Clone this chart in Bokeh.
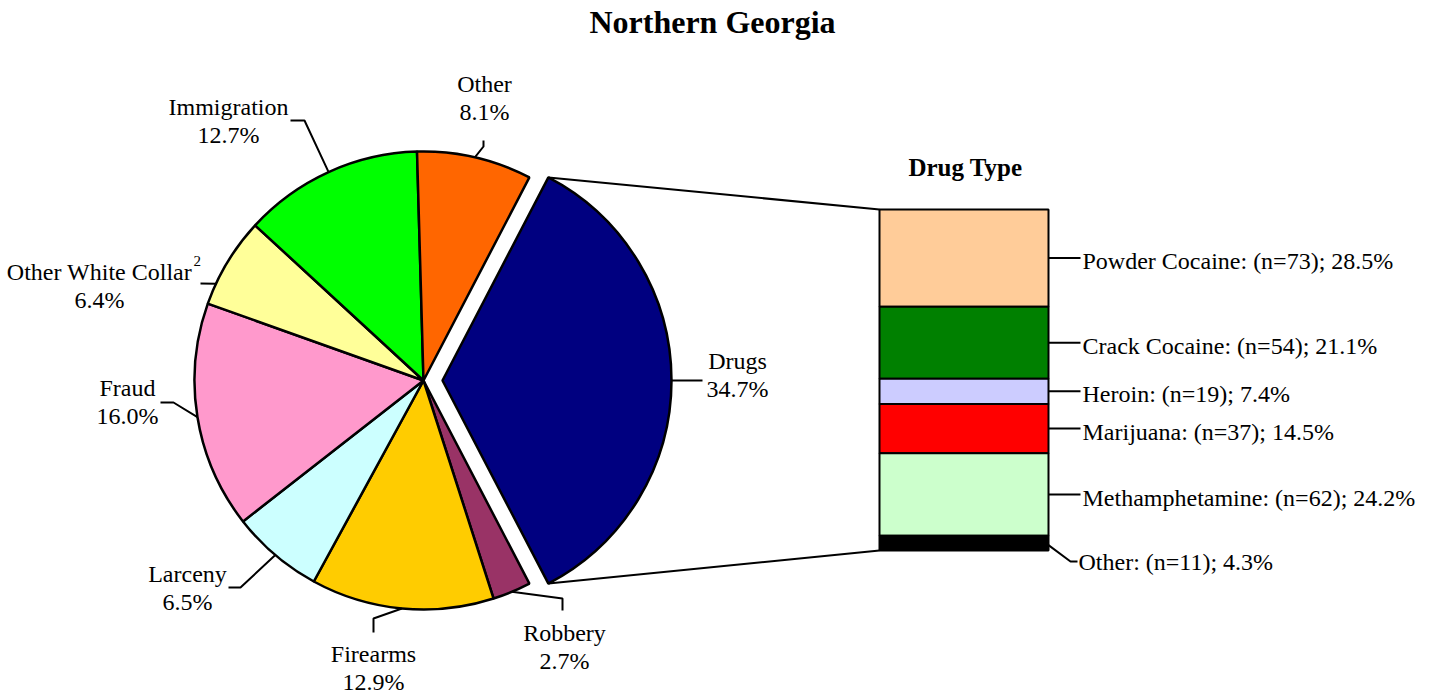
import math
from bokeh.plotting import figure
from bokeh.models import Range1d, ColumnDataSource
from bokeh.embed import file_html
from bokeh.resources import INLINE
from bokeh.core.properties import value

# ---------------- data ----------------
categories = ["Drugs", "Robbery", "Firearms", "Larceny", "Fraud",
              "Other White Collar", "Immigration", "Other"]
percents = [34.7, 2.7, 12.9, 6.5, 16.0, 6.4, 12.7, 8.1]
slice_colors = ["#000080", "#993366", "#FFCC00", "#CCFFFF", "#FF99CC",
                "#FFFF99", "#00FF00", "#FF6600"]

drug_types = ["Powder Cocaine", "Crack Cocaine", "Heroin", "Marijuana",
              "Methamphetamine", "Other"]
drug_counts = [73, 54, 19, 37, 62, 11]
drug_pcts = [28.5, 21.1, 7.4, 14.5, 24.2, 4.3]
drug_colors = ["#FFCC99", "#008000", "#CCCCFF", "#FF0000", "#CCFFCC", "#000000"]

# ---------------- layout (screen px of the 1429x694 page) ----------------
PAGE_W, PAGE_H = 1429, 694
def Y(sy):
    return PAGE_H - sy

FONT = "Liberation Serif"
cx, cy, R = 423, 380, 229
explode = 19
start_deg = percents[0] * 3.6 / 2.0  # Drugs centred on the right

# label layout: (name centre x, name centre y, pct y), leader elbows, optional anchor angle
label_layout = {
    "Drugs": ((737, 360, 388), [(702, None)], None),
    "Robbery": ((564, 632, 660), [(562, 598), (562, 610)], None),
    "Firearms": ((373, 653, 681), [(373, 618), (373, 632)], None),
    "Larceny": ((187, 573, 601), [(240, 587), (228, 587)], None),
    "Fraud": ((127, 387, 415), [(173, 402), (160, 402)], None),
    "Other White Collar": ((99, 271, 299), [(200, 283)], 155.0),
    "Immigration": ((228, 106, 134), [(304, 120), (290, 120)], None),
    "Other": ((484, 83, 111), [(483, 146), (483, 140)], None),
}

bar_left, bar_right, bar_top, bar_bottom = 879, 1048, 209, 550
bar_text_x = 1080

p = figure(width=PAGE_W, height=PAGE_H, output_backend="svg", toolbar_location=None,
           x_range=Range1d(0, PAGE_W), y_range=Range1d(0, PAGE_H),
           x_axis_type=None, y_axis_type=None, min_border=0)
p.grid.visible = False
p.outline_line_color = None
p.background_fill_color = "white"

# ---------------- pie ----------------
xs, ys, sa, ea, cols = [], [], [], [], []
mids = []
cum = 0.0
for i, (cat, pct) in enumerate(zip(categories, percents)):
    a_hi = start_deg - cum * 3.6
    a_lo = a_hi - pct * 3.6
    cum += pct
    mid = (a_hi + a_lo) / 2.0
    mids.append(mid)
    ox, oy = cx, cy
    if i == 0:
        ox = cx + explode * math.cos(math.radians(mid))
        oy = cy - explode * math.sin(math.radians(mid))
    xs.append(ox); ys.append(Y(oy))
    sa.append(math.radians(a_lo)); ea.append(math.radians(a_hi))
    cols.append(slice_colors[i])

src = ColumnDataSource(dict(x=xs, y=ys, start=sa, end=ea, color=cols))
p.wedge(x="x", y="y", radius=R, start_angle="start", end_angle="end",
        fill_color="color", line_color="black", line_width=2.5,
        direction="anticlock", source=src)

# ---------------- connector lines from exploded slice to bar ----------------
dx0, dy0 = xs[0], ys[0]
top_corner = (dx0 + R * math.cos(ea[0]), dy0 + R * math.sin(ea[0]))
bot_corner = (dx0 + R * math.cos(sa[0]), dy0 + R * math.sin(sa[0]))
p.multi_line(xs=[[top_corner[0], bar_left], [bot_corner[0], bar_left]],
             ys=[[top_corner[1], Y(bar_top)], [bot_corner[1], Y(bar_bottom)]],
             line_color="black", line_width=2)

# ---------------- pie labels ----------------
lx, ly = [], []
nm_x, nm_y, nm_t, pc_x, pc_y, pc_t = [], [], [], [], [], []
for i, cat in enumerate(categories):
    (tx, ty1, ty2), elbows, ang = label_layout[cat]
    a = math.radians(ang if ang is not None else mids[i])
    ox, oy = xs[i], ys[i]
    ex, ey = ox + R * math.cos(a), oy + R * math.sin(a)
    px, py = [ex], [ey]
    for (bx, by) in elbows:
        px.append(bx)
        py.append(ey if by is None else Y(by))
    lx.append(px); ly.append(py)
    nm_x.append(tx); nm_y.append(Y(ty1)); nm_t.append(cat)
    pc_x.append(tx); pc_y.append(Y(ty2)); pc_t.append(f"{percents[i]:.1f}%")

p.multi_line(xs=lx, ys=ly, line_color="black", line_width=2)
p.text(x=nm_x, y=nm_y, text=nm_t, text_font=value(FONT), text_font_size="24px",
       text_align="center", text_baseline="middle", text_color="black")
p.text(x=pc_x, y=pc_y, text=pc_t, text_font=value(FONT), text_font_size="24px",
       text_align="center", text_baseline="middle", text_color="black")
# superscript footnote mark on "Other White Collar"
p.text(x=[193], y=[Y(260)], text=["2"], text_font=value(FONT), text_font_size="15px",
       text_align="left", text_baseline="middle", text_color="black")

# ---------------- stacked drug bar ----------------
total = float(sum(drug_counts))
bh = bar_bottom - bar_top
tops, bots, mids_b = [], [], []
c = 0.0
for n in drug_counts:
    t = bar_top + bh * c / total
    c += n
    b = bar_top + bh * c / total
    tops.append(Y(t)); bots.append(Y(b)); mids_b.append((t + b) / 2.0)

p.quad(left=bar_left, right=bar_right, top=tops, bottom=bots,
       fill_color=drug_colors, line_color="black", line_width=2)

bl_x, bl_y, bt_x, bt_y, bt_t = [], [], [], [], []
for i, name in enumerate(drug_types):
    m = mids_b[i]
    if i == len(drug_types) - 1:
        ly_pts = [Y(m + 2), Y(561), Y(561)]
        lx_pts = [bar_right, 1070, 1077]
        tyy = 561
        txx = 1078
    else:
        ly_pts = [Y(m), Y(m)]
        lx_pts = [bar_right, bar_text_x]
        tyy = m + 3
        txx = bar_text_x + 2
    bl_x.append(lx_pts); bl_y.append(ly_pts)
    bt_x.append(txx); bt_y.append(Y(tyy))
    bt_t.append(f"{name}: (n={drug_counts[i]}); {drug_pcts[i]:.1f}%")

p.multi_line(xs=bl_x, ys=bl_y, line_color="black", line_width=2)
p.text(x=bt_x, y=bt_y, text=bt_t, text_font=value(FONT), text_font_size="24px",
       text_align="left", text_baseline="middle", text_color="black")

# ---------------- titles ----------------
p.text(x=[712], y=[Y(21)], text=["Northern Georgia"], text_font=value(FONT),
       text_font_size="32px", text_font_style="bold", text_align="center",
       text_baseline="middle", text_color="black")
p.text(x=[965], y=[Y(167)], text=["Drug Type"], text_font=value(FONT),
       text_font_size="25px", text_font_style="bold", text_align="center",
       text_baseline="middle", text_color="black")

open("out.html", "w").write(file_html(p, INLINE))
